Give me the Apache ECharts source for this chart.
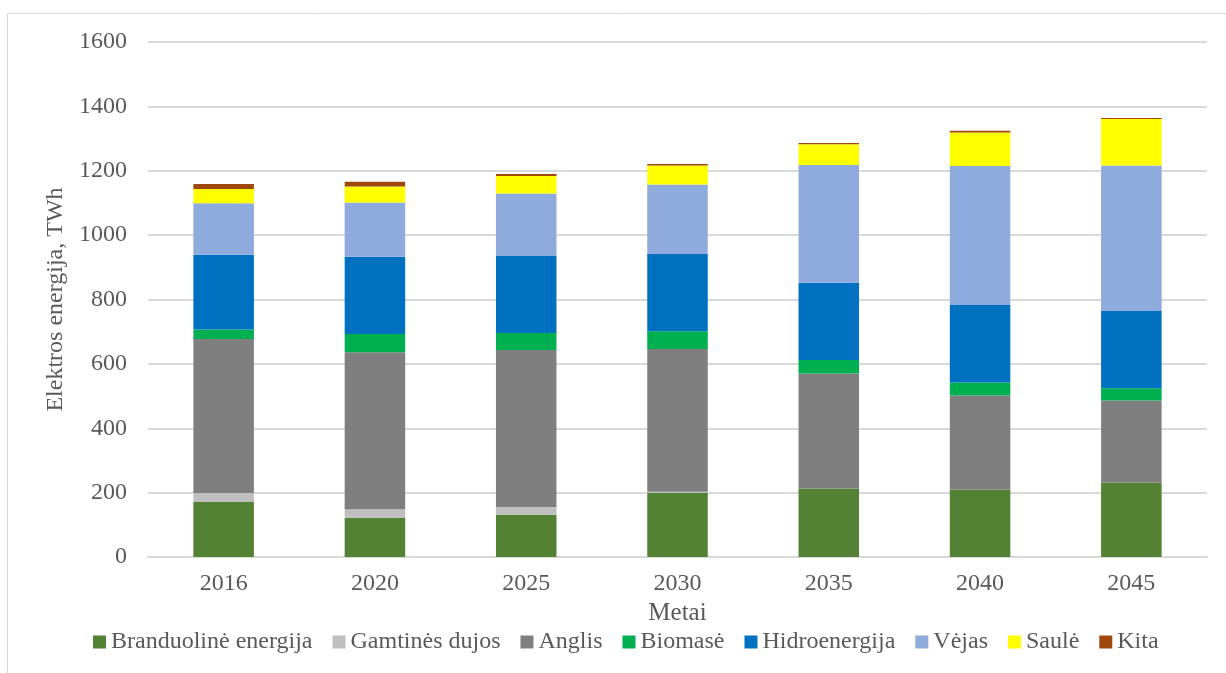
<!DOCTYPE html>
<html>
<head>
<meta charset="utf-8">
<script src="https://cdn.jsdelivr.net/npm/echarts@6/dist/echarts.min.js"></script>
<style>
  html, body { margin: 0; padding: 0; background: #fff; }
  #main { width: 1226px; height: 673px; }
</style>
</head>
<body>
<div id="main"></div>
<script>
// metai
const years = ['2016', '2020', '2025', '2030', '2035', '2040', '2045'];

// TWh, nuskaityta nuo paveikslo
const branduoline = [171, 122, 131, 200, 213, 210, 231];
const gamtinesDujos = [28, 26, 24, 3, 0, 0, 0];
const anglis = [478, 488, 488, 443, 357, 292, 255];
const biomase = [30, 57, 53, 55, 42, 40, 38];
const hidroenergija = [232, 240, 241, 240, 240, 241, 240];
const vejas = [160, 168, 192, 216, 366, 432, 452];
const saule = [44, 50, 55, 59, 64, 104, 145];
const kita = [16, 15, 6, 5, 4, 5, 3];

const yTicks = [0, 200, 400, 600, 800, 1000, 1200, 1400, 1600];

const seriesDefs = [
  { name: 'Branduolinė energija', data: branduoline, color: '#548235' },
  { name: 'Gamtinės dujos', data: gamtinesDujos, color: '#bfbfbf' },
  { name: 'Anglis', data: anglis, color: '#7f7f7f' },
  { name: 'Biomasė', data: biomase, color: '#00b050' },
  { name: 'Hidroenergija', data: hidroenergija, color: '#0070c0' },
  { name: 'Vėjas', data: vejas, color: '#8faadc' },
  { name: 'Saulė', data: saule, color: '#ffff00' },
  { name: 'Kita', data: kita, color: '#9e480e' }
];

const font = 'Liberation Serif';
const textColor = '#595959';

const myChart = echarts.init(document.getElementById('main'));

myChart.setOption({
  animation: false,
  backgroundColor: '#fff',
  textStyle: { fontFamily: font },
  graphic: [{
    type: 'rect',
    shape: { x: 7.5, y: 13.5, width: 1240, height: 700 },
    style: { fill: 'none', stroke: '#d9d9d9', lineWidth: 1 },
    silent: true
  }],
  grid: { left: 148, right: 19, top: 42, bottom: 116 },
  legend: {
    bottom: 14,
    left: 88,
    icon: 'rect',
    itemWidth: 13,
    itemHeight: 13,
    itemGap: 20,
    textStyle: { fontFamily: font, fontSize: 24, color: textColor },
    data: seriesDefs.map(s => s.name)
  },
  xAxis: {
    type: 'category',
    data: years,
    name: 'Metai',
    nameLocation: 'middle',
    nameGap: 42,
    nameTextStyle: { fontFamily: font, fontSize: 25, color: textColor },
    axisLine: { show: true, lineStyle: { color: '#d9d9d9', width: 2 } },
    axisTick: { show: false },
    axisLabel: { fontFamily: font, fontSize: 24, color: textColor, margin: 15 }
  },
  yAxis: {
    type: 'value',
    min: 0,
    max: 1600,
    interval: 200,
    name: 'Elektros energija, TWh',
    nameLocation: 'middle',
    nameGap: 75,
    nameTextStyle: { fontFamily: font, fontSize: 24, color: textColor },
    axisLine: { show: false },
    axisTick: { show: false },
    splitLine: { lineStyle: { color: '#d9d9d9', width: 2 } },
    axisLabel: {
      fontFamily: font, fontSize: 24, color: textColor, margin: 21,
      formatter: v => (yTicks.includes(v) ? String(v) : '')
    }
  },
  series: seriesDefs.map(s => ({
    name: s.name,
    type: 'bar',
    stack: 'total',
    barWidth: '40%',
    itemStyle: { color: s.color },
    data: s.data
  }))
});
</script>
</body>
</html>
